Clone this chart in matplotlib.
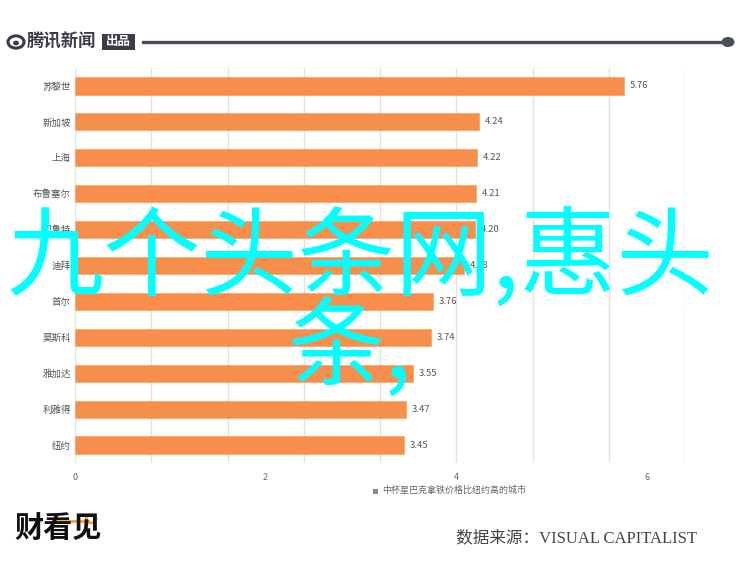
import matplotlib
matplotlib.use("Agg")
import matplotlib.pyplot as plt
from matplotlib.patches import Rectangle, Circle
from matplotlib.lines import Line2D
import numpy as np

plt.rcParams['font.family'] = ['Noto Sans CJK SC', 'DejaVu Sans']

cities = ["苏黎世", "新加坡", "上海", "布鲁塞尔", "贝鲁特", "迪拜", "首尔", "莫斯科", "雅加达", "利雅得", "纽约"]
prices = [5.76, 4.24, 4.22, 4.21, 4.20, 4.08, 3.76, 3.74, 3.55, 3.47, 3.45]
xticks = [0, 2, 4, 6]
series_name = "中杯星巴克拿铁价格比纽约高的城市"
source_text = "数据来源：VISUAL CAPITALIST"
overlay_line1 = "九个头条网,惠头"
overlay_line2 = "条,"

W, H = 750, 575
fig = plt.figure(figsize=(W / 100, H / 100), dpi=100)
fig.patch.set_facecolor("white")

ax = fig.add_axes([75 / W, 1 - 463 / H, (685 - 75) / W, (463 - 68) / H])
y = np.arange(len(cities))
bar_color = "#F78E4B"
ax.barh(y, prices, height=0.48, color=bar_color, edgecolor="#F9A66E", linewidth=0.6, zorder=3)
for yi, v in zip(y, prices):
    ax.annotate(f"{v:.2f}", (v, yi), xytext=(4, 0), textcoords="offset points",
                va="center", ha="left", fontsize=6.8, color="#555555")

ax.set_xlim(0, 6.4)
ax.set_ylim(len(cities) - 0.5, -0.5)
ax.set_yticks(y)
ax.set_yticklabels(cities, fontsize=6.8, color="#555555")
ax.set_xticks(xticks)
ax.set_xticklabels([str(t) for t in xticks], fontsize=6.5, color="#666666")
ax.tick_params(axis="both", length=0)
ax.tick_params(axis="y", pad=3)
ax.tick_params(axis="x", pad=7)
for s in ax.spines.values():
    s.set_visible(False)
for gx in np.arange(0, 6.41, 0.8):
    ax.axvline(gx, color="#e2e2e2", lw=1.0, zorder=1)

# legend-like caption below axis
fig.patches.append(Rectangle((373 / W, 1 - 494 / H), 5 / W, 5 / H, transform=fig.transFigure,
                             facecolor="#888888", edgecolor="none"))
fig.text(382 / W, 1 - 490 / H, series_name, fontsize=6.5, color="#666666", ha="left", va="center")

# header: Tencent News logo and line
fig.patches.append(Circle((16 / W, 1 - 42 / H), 8 / W, transform=fig.transFigure,
                          facecolor="none", edgecolor="#3a3d45", linewidth=2.2))
fig.patches.append(Circle((16 / W, 1 - 43 / H), 3 / W, transform=fig.transFigure,
                          facecolor="#3a3d45", edgecolor="none"))
fig.text(27 / W, 1 - 42 / H, "腾讯新闻", fontsize=12.5, color="#3a3d45", ha="left", va="center",
         fontweight="bold", style="italic")
fig.patches.append(Rectangle((102 / W, 1 - 50 / H), 33 / W, 16 / H, transform=fig.transFigure,
                             facecolor="#3a3d45", edgecolor="none"))
fig.text(118.5 / W, 1 - 42 / H, "出品", fontsize=9, color="white", ha="center", va="center",
         fontweight="bold")
fig.lines.append(Line2D([143 / W, 728 / W], [1 - 42 / H, 1 - 42 / H], transform=fig.transFigure,
                        color="#4a4e5a", lw=2.4))
fig.patches.append(Circle((728 / W, 1 - 42 / H), 6.5 / W, transform=fig.transFigure,
                          facecolor="#4a4e5a", edgecolor="none"))

# footer logo
fig.text(14 / W, 1 - 528 / H, "财看见", fontsize=21, color="#111111", ha="left", va="center",
         fontweight="black", style="italic")
fig.lines.append(Line2D([52 / W, 88 / W], [1 - 521 / H, 1 - 521 / H], transform=fig.transFigure,
                        color="#F5A623", lw=2))
fig.patches.append(Circle((91 / W, 1 - 519 / H), 5 / W, transform=fig.transFigure,
                          facecolor="none", edgecolor="#F5A623", linewidth=2))

# source
fig.text(697 / W, 1 - 538 / H, source_text, fontsize=12, color="#444444", ha="right", va="center",
         family=["Liberation Serif", "Noto Sans CJK SC"])

# overlay watermark text
fig.text(361 / W, 1 - 261 / H, overlay_line1, fontsize=70, color="#00FFFF", ha="center", va="center")
fig.text(350 / W, 1 - 350 / H, overlay_line2, fontsize=70, color="#00FFFF", ha="center", va="center")

fig.savefig("out.png", dpi=100, facecolor="white")
